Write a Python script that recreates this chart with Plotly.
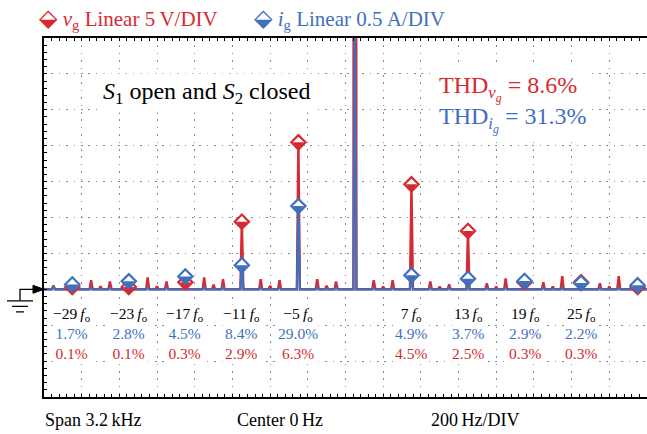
import plotly.graph_objects as go

# ---------------- data ----------------
F0 = 50.0            # fundamental frequency, Hz
V1 = 325.0           # v_g fundamental amplitude, V
I1 = 4.0             # i_g fundamental amplitude, A
V_DIV = 5.0          # V per division
I_DIV = 0.5          # A per division

# marked harmonics (negative = negative sequence)
marked_orders = [-29, -23, -17, -11, -5, 7, 13, 19, 25, 31]
ig_marked_pct = [1.7, 2.8, 4.5, 8.4, 29.0, 4.9, 3.7, 2.9, 2.2, 1.4]
vg_marked_pct = [0.1, 0.1, 0.3, 2.9, 6.3, 4.5, 2.5, 0.3, 0.3, 0.1]

label_orders = [-29, -23, -17, -11, -5, 7, 13, 19, 25]
label_ig = [1.7, 2.8, 4.5, 8.4, 29.0, 4.9, 3.7, 2.9, 2.2]
label_vg = [0.1, 0.1, 0.3, 2.9, 6.3, 4.5, 2.5, 0.3, 0.3]

# other (unmarked) spectral lines, % of fundamental
vg_other_orders = [-31, -27, -25, -21, -19, -15, -13, -9, -7, -3, -1, 3, 5, 9, 11,
                   15, 17, 21, 23, 27, 29,
                   -26, -20, -14, -8, -2, 4, 10, 16, 22, 28]
vg_other_pct = [0.17, 0.39, 0.34, 0.51, 0.34, 0.51, 0.43, 0.43, 0.39, 0.43, 0.34, 0.39, 0.39, 0.34, 0.21,
                0.26, 0.47, 0.30, 0.56, 0.26, 0.56,
                0.13, 0.13, 0.20, 0.15, 0.15, 0.12, 0.12, 0.12, 0.12, 0.12]
ig_other_orders = [-31, -27, -25, -21, -19, -15, -13, -9, -7, -3, -1, 3, 5, 9, 11,
                   15, 17, 21, 23, 27, 29]
ig_other_pct = [1.0, 0.7, 0.6, 0.6, 0.7, 0.7, 0.8, 0.7, 0.6, 0.7, 0.6, 0.6, 0.6, 0.6, 0.6,
                0.6, 0.6, 0.6, 0.6, 0.6, 0.6]

THD_VG = 8.6
THD_IG = 31.3

RED = "#d62a30"
BLUE = "#3f6fbf"
FONT = "Liberation Serif"

X_MIN, X_MAX = -1600.0, 1600.0
HALF_W = 8.0  # Hz, half width of a drawn spectral line


def spectrum(orders, amps):
    pairs = sorted(zip(orders, amps))
    xs, ys = [X_MIN], [0.0]
    for o, a in pairs:
        f = o * F0
        xs += [f - HALF_W, f, f + HALF_W]
        ys += [0.0, a, 0.0]
    xs.append(X_MAX)
    ys.append(0.0)
    return xs, ys


vg_orders = [1] + marked_orders + vg_other_orders
vg_pct = [100.0] + vg_marked_pct + vg_other_pct
ig_orders = [1] + marked_orders + ig_other_orders
ig_pct = [100.0] + ig_marked_pct + ig_other_pct

vg_div = [p / 100.0 * V1 / V_DIV for p in vg_pct]
ig_div = [p / 100.0 * I1 / I_DIV for p in ig_pct]

fig = go.Figure()

xr, yr = spectrum(vg_orders, vg_div)
xb, yb = spectrum(ig_orders, ig_div)
fig.add_trace(go.Scatter(x=xr, y=yr, mode="lines", line=dict(color=RED, width=2.4),
                         showlegend=False, hoverinfo="skip"))
fig.add_trace(go.Scatter(x=xb, y=yb, mode="lines", line=dict(color=BLUE, width=2.2),
                         showlegend=False, hoverinfo="skip"))

mx = [o * F0 for o in marked_orders]
my_r = [p / 100.0 * V1 / V_DIV for p in vg_marked_pct]
my_b = [p / 100.0 * I1 / I_DIV for p in ig_marked_pct]

for ys, col in ((my_r, RED), (my_b, BLUE)):
    fig.add_trace(go.Scatter(x=mx, y=ys, mode="markers", cliponaxis=False,
                             marker=dict(symbol="diamond", size=11, color="white",
                                         line=dict(color=col, width=2.2)),
                             showlegend=False, hoverinfo="skip"))
    fig.add_trace(go.Scatter(x=mx, y=ys, mode="markers", cliponaxis=False,
                             marker=dict(symbol="triangle-down", size=9.6, color=col,
                                         standoff=2.4, line=dict(width=0)),
                             showlegend=False, hoverinfo="skip"))

ann = []
# harmonic labels: order, i_g %, v_g % stacked in one block per harmonic
for o, pb, pr in zip(label_orders, label_ig, label_vg):
    sign = "\u2212" if o < 0 else ""
    txt = (f"{sign}{abs(o)}\u2009<i>f</i><sub>o</sub><br>"
           f"<span style='color:{BLUE}'>{pb:.1f}%</span><br>"
           f"<span style='color:{RED}'>{pr:.1f}%</span>")
    ann.append(dict(x=o * F0, xref="x", y=0.178, yref="paper", yanchor="middle",
                    xanchor="center", align="center",
                    text=txt, showarrow=False,
                    font=dict(family=FONT, size=15.5, color="black"),
                    bgcolor="white", borderpad=0))

# legend
ann.append(dict(x=-0.012, xref="paper", y=1.055, yref="paper", xanchor="left", yanchor="middle",
                text="<span style='font-family:DejaVu Sans;font-size:24px'>\u2b19</span> <i>v</i><sub>g</sub> Linear 5\u2009V/DIV",
                showarrow=False, font=dict(family=FONT, size=21, color=RED)))
ann.append(dict(x=0.345, xref="paper", y=1.055, yref="paper", xanchor="left", yanchor="middle",
                text="<span style='font-family:DejaVu Sans;font-size:24px'>\u2b19</span> <i>i</i><sub>g</sub> Linear 0.5\u2009A/DIV",
                showarrow=False, font=dict(family=FONT, size=21, color=BLUE)))

# condition text
ann.append(dict(x=0.2687, xref="paper", y=0.847, yref="paper", xanchor="center", yanchor="middle",
                text="<i>S</i><sub>1</sub> open and <i>S</i><sub>2</sub> closed",
                showarrow=False, font=dict(family=FONT, size=24, color="black"),
                bgcolor="white", borderpad=4))

# THD box
ann.append(dict(x=0.645, xref="paper", y=0.815, yref="paper", xanchor="left", yanchor="middle",
                align="left",
                text=(f"<span style='color:{RED}'>THD<sub><i>v</i><sub><i>g</i></sub></sub> = {THD_VG}%</span><br>"
                      f"<span style='color:{BLUE}'>THD<sub><i>i</i><sub><i>g</i></sub></sub> = {THD_IG}%</span>"),
                showarrow=False, font=dict(family=FONT, size=24),
                bgcolor="white", borderpad=5))

# bottom texts
ann.append(dict(x=-0.002, xref="paper", y=-0.064, yref="paper", xanchor="left", yanchor="middle",
                text="Span 3.2\u2009kHz", showarrow=False, font=dict(family=FONT, size=18, color="black")))
ann.append(dict(x=0.391, xref="paper", y=-0.064, yref="paper", xanchor="center", yanchor="middle",
                text="Center 0\u2009Hz", showarrow=False, font=dict(family=FONT, size=18, color="black")))
ann.append(dict(x=0.793, xref="paper", y=-0.064, yref="paper", xanchor="right", yanchor="middle",
                text="200\u2009Hz/DIV", showarrow=False, font=dict(family=FONT, size=18, color="black")))

# ground reference symbol at baseline
shapes = [
    dict(type="path", xref="paper", yref="y", xsizemode="pixel", ysizemode="pixel",
         xanchor=0, yanchor=0, path="M0,0 L-11,4 L-11,-4 Z",
         fillcolor="black", line=dict(color="black", width=1)),
    dict(type="path", xref="paper", yref="y", xsizemode="pixel", ysizemode="pixel",
         xanchor=0, yanchor=0, path="M-11,0 L-24,0 L-24,-11.5",
         line=dict(color="black", width=1.3)),
    dict(type="path", xref="paper", yref="y", xsizemode="pixel", ysizemode="pixel",
         xanchor=0, yanchor=0, path="M-37,-11.5 L-11,-11.5 M-32,-17 L-16,-17 M-28,-22.5 L-20,-22.5",
         line=dict(color="black", width=1.3)),
]

grid_common = dict(showgrid=True, gridcolor="#8c8c8c", gridwidth=1, griddash="1.5px,5.9px",
                   showticklabels=False, ticks="inside", ticklen=3, tickcolor="black", tickwidth=1,
                   showline=True, linecolor="black", linewidth=1.5, zeroline=False, fixedrange=True)

fig.update_layout(
    width=647, height=434,
    margin=dict(l=44, r=0, t=38, b=37),
    paper_bgcolor="white", plot_bgcolor="white",
    xaxis=dict(range=[X_MIN, X_MAX], dtick=200, tick0=X_MIN, mirror="allticks",
               minor=dict(dtick=40, tick0=X_MIN, ticks="inside", ticklen=3, tickcolor="black", showgrid=False),
               **grid_common),
    yaxis=dict(range=[-3, 7], dtick=1, tick0=-3, mirror=False,
               minor=dict(dtick=0.2, tick0=-3, ticks="inside", ticklen=3, tickcolor="black", showgrid=False),
               **grid_common),
    annotations=ann,
    shapes=shapes,
    showlegend=False,
)

fig.write_html("out.html")
